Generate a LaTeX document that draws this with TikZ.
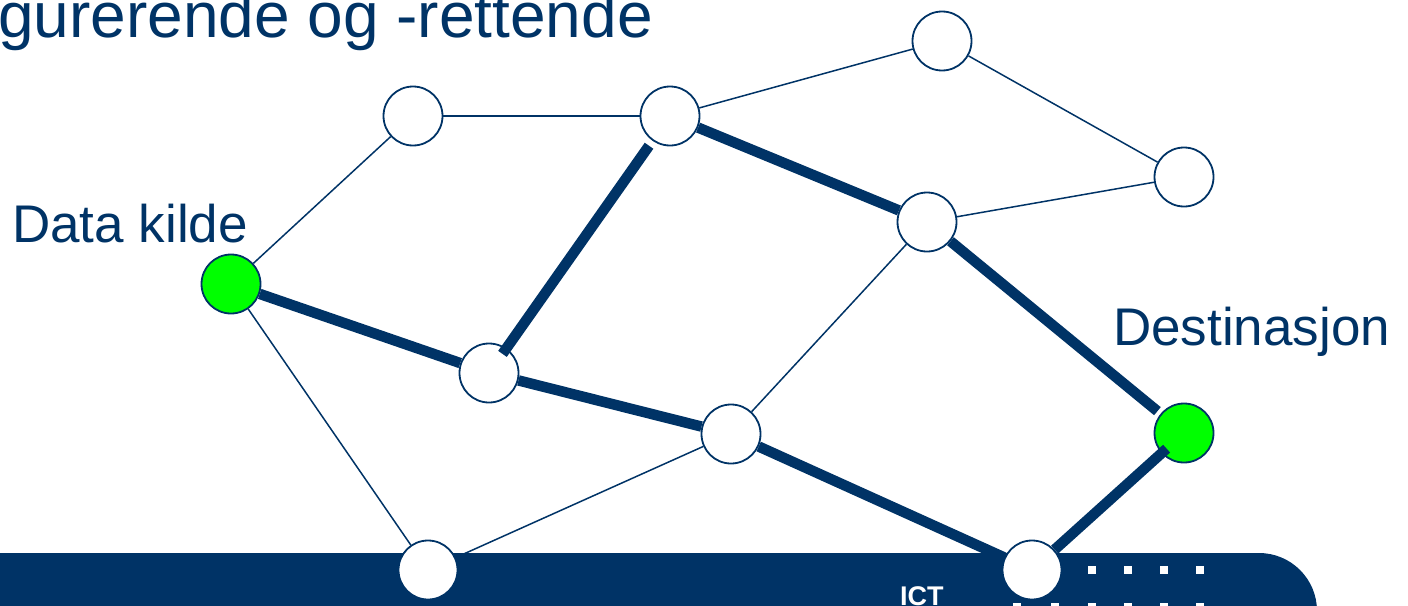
\documentclass[tikz,border=0pt]{standalone}
\usepackage{fontspec}
\setmainfont{Liberation Sans}
\definecolor{navy}{RGB}{0,51,102}
\definecolor{lime}{RGB}{0,255,0}
\begin{document}
\begin{tikzpicture}[x=1pt,y=-1pt,
  router/.style={circle,draw=navy,line width=1.8pt,fill=white,minimum size=59pt,inner sep=0pt},
  endpoint/.style={router,fill=lime},
  link/.style={draw=navy,line width=1.5pt},
  route/.style={draw=navy,line width=10.5pt},
  label/.style={text=navy,font=\fontsize{53}{60}\selectfont,inner sep=0pt,anchor=base west},
  dot/.style={fill=white}]
\useasboundingbox (0,0) rectangle (1408,605);
\begin{scope}
\clip (0,0) rectangle (1408,605);
% footer band with rounded right end
\fill[navy,rounded corners=58pt] (-200,553) rectangle (1317,720);
\foreach \x in {1092,1128,1164,1200} \fill[dot] (\x-4,566) rectangle (\x+4,574);
\foreach \x in {1017,1055,1092,1128,1164,1200} \fill[dot] (\x-4,603) rectangle (\x+4,611);
\node[inner sep=0pt,anchor=base west,text=white,font=\fontsize{27}{30}\selectfont\bfseries] (ict) at (900,605) {ICT};

% headings
\node[label,font=\fontsize{64}{70}\selectfont] (title) at (-2,37) {gurerende og -rettende};
\node[label] (src) at (12,242) {Data kilde};
\node[label] (dst) at (1113,345) {Destinasjon};

% network nodes
\node[router] (a) at (413,116) {};
\node[router] (b) at (670,116) {};
\node[router] (c) at (942,41) {};
\node[router] (d) at (1184,177) {};
\node[router] (e) at (927,222) {};
\node[endpoint] (s) at (231,284) {};
\node[router] (f) at (489,373) {};
\node[router] (g) at (731,434) {};
\node[endpoint] (t) at (1184,433) {};
\node[router] (h) at (428,570) {};
\node[router] (i) at (1032,570) {};

% ordinary links
\draw[link] (s) -- (a);
\draw[link] (a) -- (b);
\draw[link] (b) -- (c);
\draw[link] (c) -- (d);
\draw[link] (d) -- (e);
\draw[link] (e) -- (g);
\draw[link] (s) -- (h);
\draw[link] (h) -- (g);

% highlighted routes
\draw[route] (s) -- (f);
\draw[route,shorten <=-7pt,shorten >=6pt] (f) -- (b);
\draw[route] (b) -- (e);
\draw[route,shorten >=4pt] (e) -- (t);
\draw[route] (f) -- (g);
\draw[route] (g) -- (i);
\draw[route,shorten >=-7pt] (i) -- (t);
\end{scope}
\end{tikzpicture}
\end{document}
